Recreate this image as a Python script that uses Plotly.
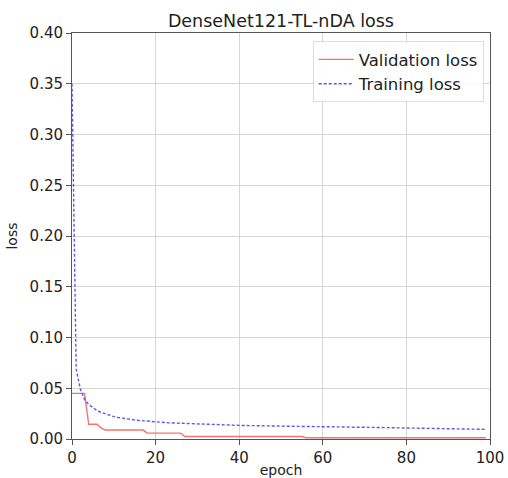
import plotly.graph_objects as go

epochs = list(range(100))

val_loss = ([0.045] * 4 + [0.0145] * 3 + [0.0108] + [0.0088] * 10 +
            [0.0058] * 9 + [0.0025] * 29 + [0.0012] * 44)

train_loss = [
    0.350, 0.069, 0.049, 0.039, 0.034, 0.031, 0.028, 0.0262, 0.0246, 0.0232,
    0.0221, 0.0212, 0.0204, 0.0198, 0.0192, 0.0187, 0.0183, 0.0179, 0.0175, 0.0171,
    0.0166, 0.0164, 0.0162, 0.0160, 0.0158, 0.0157, 0.0155, 0.0153, 0.0151, 0.0149,
    0.0148,
    0.0146, 0.0145, 0.0143, 0.0142, 0.0141, 0.0139, 0.0138, 0.0137, 0.0136, 0.0134,
    0.0134, 0.0133, 0.0132, 0.0131, 0.0131, 0.0130, 0.0129, 0.0128, 0.0128, 0.0127,
    0.0126, 0.0126, 0.0125, 0.0124, 0.0124, 0.0123, 0.0123, 0.0122, 0.0122, 0.0121,
    0.0121, 0.0120, 0.0119, 0.0119, 0.0118, 0.0118, 0.0117, 0.0116, 0.0116, 0.0115,
    0.0115, 0.0114, 0.0113, 0.0113, 0.0112, 0.0111, 0.0111, 0.0110, 0.0109, 0.0108,
    0.0108, 0.0107, 0.0107, 0.0106, 0.0105, 0.0105, 0.0104, 0.0103, 0.0103, 0.0102,
    0.0101, 0.0101, 0.0100, 0.0099, 0.0099, 0.0098, 0.0097, 0.0096, 0.0095,
]

x_ticks = [0, 20, 40, 60, 80, 100]
y_ticks = [0.00, 0.05, 0.10, 0.15, 0.20, 0.25, 0.30, 0.35, 0.40]

font_family = "DejaVu Sans"

fig = go.Figure()
fig.add_trace(go.Scatter(
    x=epochs, y=val_loss, mode="lines", name="Validation loss",
    line=dict(color="rgba(240,90,90,0.85)", width=1.4),
))
fig.add_trace(go.Scatter(
    x=epochs, y=train_loss, mode="lines", name="Training loss",
    line=dict(color="rgba(60,60,245,0.85)", width=1.4, dash="3px,2px"),
))

axis_common = dict(
    showline=True, mirror=True, linecolor="#555", linewidth=1,
    showgrid=True, gridcolor="#d6d6d6", gridwidth=1,
    ticks="outside", ticklen=5, tickcolor="#555",
    tickfont=dict(family=font_family, size=15, color="#222"),
    zeroline=False, automargin=False,
)

fig.update_layout(
    width=508, height=478,
    margin=dict(l=72, r=18, t=33, b=39),
    paper_bgcolor="white", plot_bgcolor="white",
    font=dict(family=font_family, color="#222"),
    title=dict(text="DenseNet121-TL-nDA loss", x=0.553, xanchor="center",
               y=0.956, yanchor="middle",
               font=dict(family=font_family, size=17.5, color="#222")),
    xaxis=dict(range=[0, 100], tickvals=x_ticks,
               title=dict(text="epoch", standoff=0,
                          font=dict(family=font_family, size=14)),
               **axis_common),
    yaxis=dict(range=[0, 0.40], tickvals=y_ticks, tickformat=".2f",
               title=dict(text="loss", standoff=8,
                          font=dict(family=font_family, size=14)),
               **axis_common),
    legend=dict(x=0.985, y=0.98, xanchor="right", yanchor="top",
                bgcolor="rgba(255,255,255,0.9)", bordercolor="#ddd",
                borderwidth=1, font=dict(family=font_family, size=16.5),
                itemwidth=35, tracegroupgap=0),
    showlegend=True,
)

fig.write_html("out.html")
